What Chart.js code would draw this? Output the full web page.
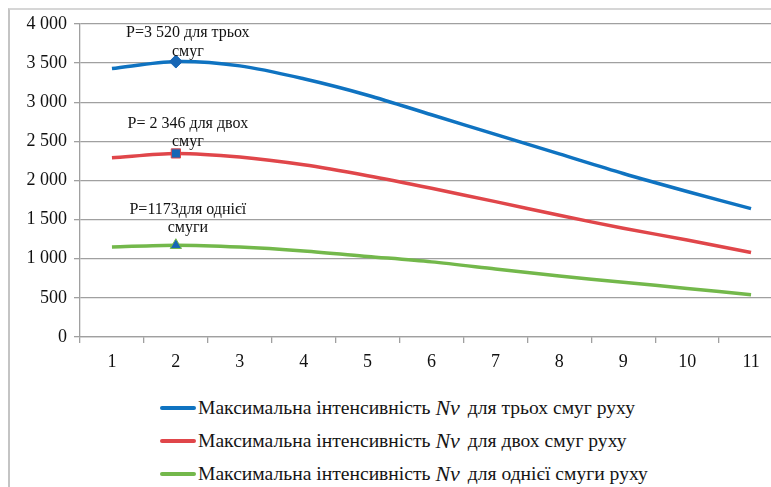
<!DOCTYPE html>
<html>
<head>
<meta charset="utf-8">
<script src="https://cdn.jsdelivr.net/npm/chart.js@4.4.1/dist/chart.umd.min.js"></script>
<style>
  html, body { margin: 0; padding: 0; background: #fff; overflow: hidden; width: 771px; height: 487px; }
  .frame { position: absolute; left: 8px; top: 8px; width: 820px; height: 520px;
           border-left: 2px solid #c4c4c4; border-top: 2px solid #d6d6d6; }
  #wrap { position: absolute; left: 0; top: 0; width: 800px; height: 390px; }
  .legend { position: absolute; left: 160px; top: 391px; font-family: 'Liberation Serif';
            font-size: 19.6px; color: #151515; }
  .legend .row { height: 33px; display: flex; align-items: center; white-space: pre; }
  .legend .key { display: inline-block; width: 36px; height: 4px; border-radius: 2px; margin-right: 2px; }
  .legend i { font-size: 22px; margin-right: 3px; }
</style>
</head>
<body>
<div class="frame"></div>
<div id="wrap"><canvas id="laneChart"></canvas></div>
<div class="legend" id="legend"></div>
<script>
/* ===== data ===== */
const categories = ["1", "2", "3", "4", "5", "6", "7", "8", "9", "10", "11"];
const threeLanes = [3430, 3520, 3465, 3300, 3090, 2840, 2590, 2340, 2090, 1860, 1640];
const twoLanes = [2290, 2346, 2300, 2200, 2060, 1900, 1730, 1555, 1390, 1240, 1080];
const oneLane = [1150, 1173, 1150, 1100, 1030, 960, 870, 780, 700, 620, 540];
const seriesNames = [
  ["Максимальна інтенсивність ", "Nv", " для трьох смуг руху"],
  ["Максимальна інтенсивність ", "Nv", " для двох смуг руху"],
  ["Максимальна інтенсивність ", "Nv", " для однієї смуги руху"]
];
const peakNotes = [
  ["P=3 520 для трьох", "смуг"],
  ["P= 2 346 для двох", "смуг"],
  ["P=1173для однієї", "смуги"]
];
const peakIndex = 1;

/* ===== styles ===== */
const lineColors = ["#0f73c1", "#e0464a", "#73b84b"];
const markerFill = "#1766b5";
const markerStyles = ["rectRot", "rect", "triangle"];
const noteOffsets = [[-29, -10], [-30, -12], [-35, -17]]; // px above the marked point
const serif = "Liberation Serif";

// Legend (html, keeps the italic Nv)
const legendEl = document.getElementById("legend");
seriesNames.forEach(function (parts, i) {
  legendEl.innerHTML += `<div class="row"><span class="key" style="background:${lineColors[i]}"></span>` +
    `${parts[0]}<i>${parts[1]}</i>${parts[2]}</div>`;
});

// notes above the peak marker
const peakNotesPlugin = {
  id: "peakNotes",
  afterDraw(chart) {
    const ctx = chart.ctx;
    ctx.save();
    ctx.font = "16px '" + serif + "'";
    ctx.fillStyle = "#111";
    ctx.textAlign = "center";
    ctx.textBaseline = "middle";
    chart.data.datasets.forEach(function (ds, i) {
      const x = chart.scales.x.getPixelForValue(peakIndex) + 12;
      const y = chart.scales.y.getPixelForValue(ds.data[peakIndex]);
      ctx.fillText(peakNotes[i][0], x, y + noteOffsets[i][0]);
      ctx.fillText(peakNotes[i][1], x, y + noteOffsets[i][1]);
    });
    ctx.restore();
  }
};

function makeSet(data, i) {
  return {
    data: data,
    borderColor: lineColors[i],
    borderWidth: 3.5,
    tension: 0.3,
    pointStyle: markerStyles[i],
    pointRadius: (c) => (c.dataIndex === peakIndex ? 6.5 : 0),
    pointHoverRadius: 0,
    pointBackgroundColor: markerFill,
    pointBorderColor: i === 0 ? markerFill : lineColors[i],
    pointBorderWidth: 1,
  };
}

const ctx = document.getElementById("laneChart");
new Chart(ctx, {
  type: "line",
  data: {
    labels: categories,
    datasets: [makeSet(threeLanes, 0), makeSet(twoLanes, 1), makeSet(oneLane, 2)],
  },
  options: {
    responsive: true,
    maintainAspectRatio: false,
    animation: false,
    events: [],
    layout: { padding: { left: 0, right: 17, top: 24, bottom: 0 } },
    plugins: {
      legend: { display: false },
      tooltip: { enabled: false },
    },
    scales: {
      x: {
        offset: true,
        afterFit(scale) { scale.height = 53; },
        grid: {
          offset: true,
          drawOnChartArea: false,
          drawTicks: true,
          tickLength: 6,
          color: "#a0a0a0",
          lineWidth: 1.3,
        },
        border: { display: true, color: "#a0a0a0", width: 1.3 },
        ticks: {
          color: "#111",
          padding: 8,
          maxRotation: 0,
          font: { family: "'" + serif + "'", size: 18 },
        },
      },
      y: {
        min: 0,
        max: 4000,
        afterFit(scale) { scale.width = 80; },
        grid: {
          color: "#a0a0a0",
          lineWidth: 1.3,
          tickLength: 6,
        },
        border: { display: true, color: "#a0a0a0", width: 1.3 },
        ticks: {
          stepSize: 500,
          color: "#111",
          padding: 7,
          font: { family: "'" + serif + "'", size: 18 },
          callback: function (value) {
            return value >= 1000 ? Math.floor(value / 1000) + " " + String(value % 1000).padStart(3, "0") : String(value);
          },
        },
      },
    },
  },
  plugins: [peakNotesPlugin],
});
</script>
</body>
</html>
